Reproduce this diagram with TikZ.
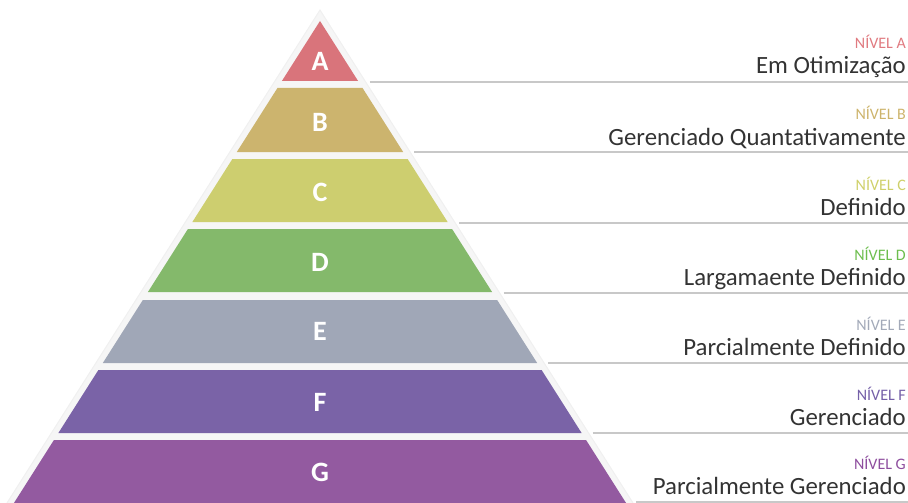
\documentclass[tikz,border=0pt]{standalone}
\usepackage{fontspec}
\setmainfont{Carlito}

\definecolor{lvlA}{HTML}{D9747B}
\definecolor{lvlB}{HTML}{CCB46E}
\definecolor{lvlC}{HTML}{CDCE6F}
\definecolor{lvlD}{HTML}{84B96B}
\definecolor{lvlE}{HTML}{A0A7B7}
\definecolor{lvlF}{HTML}{7A63A7}
\definecolor{lvlG}{HTML}{935AA0}
\definecolor{txtA}{HTML}{E07A80}
\definecolor{txtB}{HTML}{CDB46C}
\definecolor{txtC}{HTML}{CFD06A}
\definecolor{txtD}{HTML}{6DBE4E}
\definecolor{txtE}{HTML}{A3AAB9}
\definecolor{txtF}{HTML}{7560A8}
\definecolor{txtG}{HTML}{8E4E9E}
\definecolor{darktxt}{HTML}{333333}
\definecolor{shellgray}{HTML}{F6F6F6}
\definecolor{rulegray}{HTML}{C8C8C8}

\tikzset{
  shell/.style={fill=shellgray, draw=black!6, line width=1pt},
  letter/.style={text=white, font=\bfseries\fontsize{28}{30}\selectfont, inner sep=0pt},
  nivel/.style={anchor=base east, inner sep=0pt, font=\fontsize{16}{17}\selectfont},
  desc/.style={anchor=base east, inner sep=0pt, text=darktxt, font=\fontsize{24.8}{26}\selectfont},
  rule/.style={draw=rulegray, line width=1.3pt}
}

\begin{document}
\begin{tikzpicture}[x=1pt,y=-1pt]

  % Fix the size of the picture
  \useasboundingbox (0,0) rectangle (908,503);
  \clip (0,0) rectangle (908,503);

  % Slope of the sides and top of the coloured pyramid
  \def\S{0.635}
  \def\Y{21}
  % Top of the light outer pyramid
  \def\T{10}

  % Draw the light outer pyramid
  \fill[shell] (320,\T) -- ({320-\S*(520-\T)},520) -- ({320+\S*(520-\T)},520) -- cycle;

  % Draw the coloured levels, from the top down
  \fill[lvlA] (320,\Y) -- ({320-\S*(81-\Y)},81) -- ({320+\S*(81-\Y)},81) -- cycle;
  \fill[lvlB] ({320-\S*(88-\Y)},88) -- ({320+\S*(88-\Y)},88)
    -- ({320+\S*(152-\Y)},152) -- ({320-\S*(152-\Y)},152) -- cycle;
  \fill[lvlC] ({320-\S*(159-\Y)},159) -- ({320+\S*(159-\Y)},159)
    -- ({320+\S*(222-\Y)},222) -- ({320-\S*(222-\Y)},222) -- cycle;
  \fill[lvlD] ({320-\S*(229-\Y)},229) -- ({320+\S*(229-\Y)},229)
    -- ({320+\S*(292-\Y)},292) -- ({320-\S*(292-\Y)},292) -- cycle;
  \fill[lvlE] ({320-\S*(300-\Y)},300) -- ({320+\S*(300-\Y)},300)
    -- ({320+\S*(363-\Y)},363) -- ({320-\S*(363-\Y)},363) -- cycle;
  \fill[lvlF] ({320-\S*(370-\Y)},370) -- ({320+\S*(370-\Y)},370)
    -- ({320+\S*(433-\Y)},433) -- ({320-\S*(433-\Y)},433) -- cycle;
  \fill[lvlG] ({320-\S*(440-\Y)},440) -- ({320+\S*(440-\Y)},440)
    -- ({320+\S*(520-\Y)},520) -- ({320-\S*(520-\Y)},520) -- cycle;

  % Letters of the levels
  \node[letter] (A) at (320,61) {A};
  \node[letter] (B) at (320,122) {B};
  \node[letter] (C) at (320,192) {C};
  \node[letter] (D) at (320,262) {D};
  \node[letter] (E) at (320,331) {E};
  \node[letter] (F) at (320,402) {F};
  \node[letter] (G) at (320,472) {G};

  % End points of the rules on the right
  \coordinate (lA) at ({320+\S*(82-\T)+4},82);
  \coordinate (rA) at (908,82);
  \coordinate (lB) at ({320+\S*(152-\T)+4},152);
  \coordinate (rB) at (908,152);
  \coordinate (lC) at ({320+\S*(223-\T)+4},223);
  \coordinate (rC) at (908,223);
  \coordinate (lD) at ({320+\S*(293-\T)+4},293);
  \coordinate (rD) at (908,293);
  \coordinate (lE) at ({320+\S*(363-\T)+4},363);
  \coordinate (rE) at (908,363);
  \coordinate (lF) at ({320+\S*(433-\T)+4},433);
  \coordinate (rF) at (908,433);
  \coordinate (lG) at ({320+\S*(502-\T)+4},502);
  \coordinate (rG) at (908,502);

  % Draw the rules
  \draw[rule] (lA) -- (rA);
  \draw[rule] (lB) -- (rB);
  \draw[rule] (lC) -- (rC);
  \draw[rule] (lD) -- (rD);
  \draw[rule] (lE) -- (rE);
  \draw[rule] (lF) -- (rF);
  \draw[rule] (lG) -- (rG);

  % Add the labels of the levels
  \node[nivel, text=txtA] (nA) at (906,49) {NÍVEL A};
  \node[desc] (dA) at (906,74) {Em Otimização};
  \node[nivel, text=txtB] (nB) at (906,119) {NÍVEL B};
  \node[desc] (dB) at (906,145) {Gerenciado Quantativamente};
  \node[nivel, text=txtC] (nC) at (906,190) {NÍVEL C};
  \node[desc] (dC) at (906,215) {Definido};
  \node[nivel, text=txtD] (nD) at (906,260) {NÍVEL D};
  \node[desc] (dD) at (906,285) {Largamaente Definido};
  \node[nivel, text=txtE] (nE) at (906,330) {NÍVEL E};
  \node[desc] (dE) at (906,355) {Parcialmente Definido};
  \node[nivel, text=txtF] (nF) at (906,400) {NÍVEL F};
  \node[desc] (dF) at (906,425) {Gerenciado};
  \node[nivel, text=txtG] (nG) at (906,469) {NÍVEL G};
  \node[desc] (dG) at (906,494) {Parcialmente Gerenciado};

\end{tikzpicture}
\end{document}
